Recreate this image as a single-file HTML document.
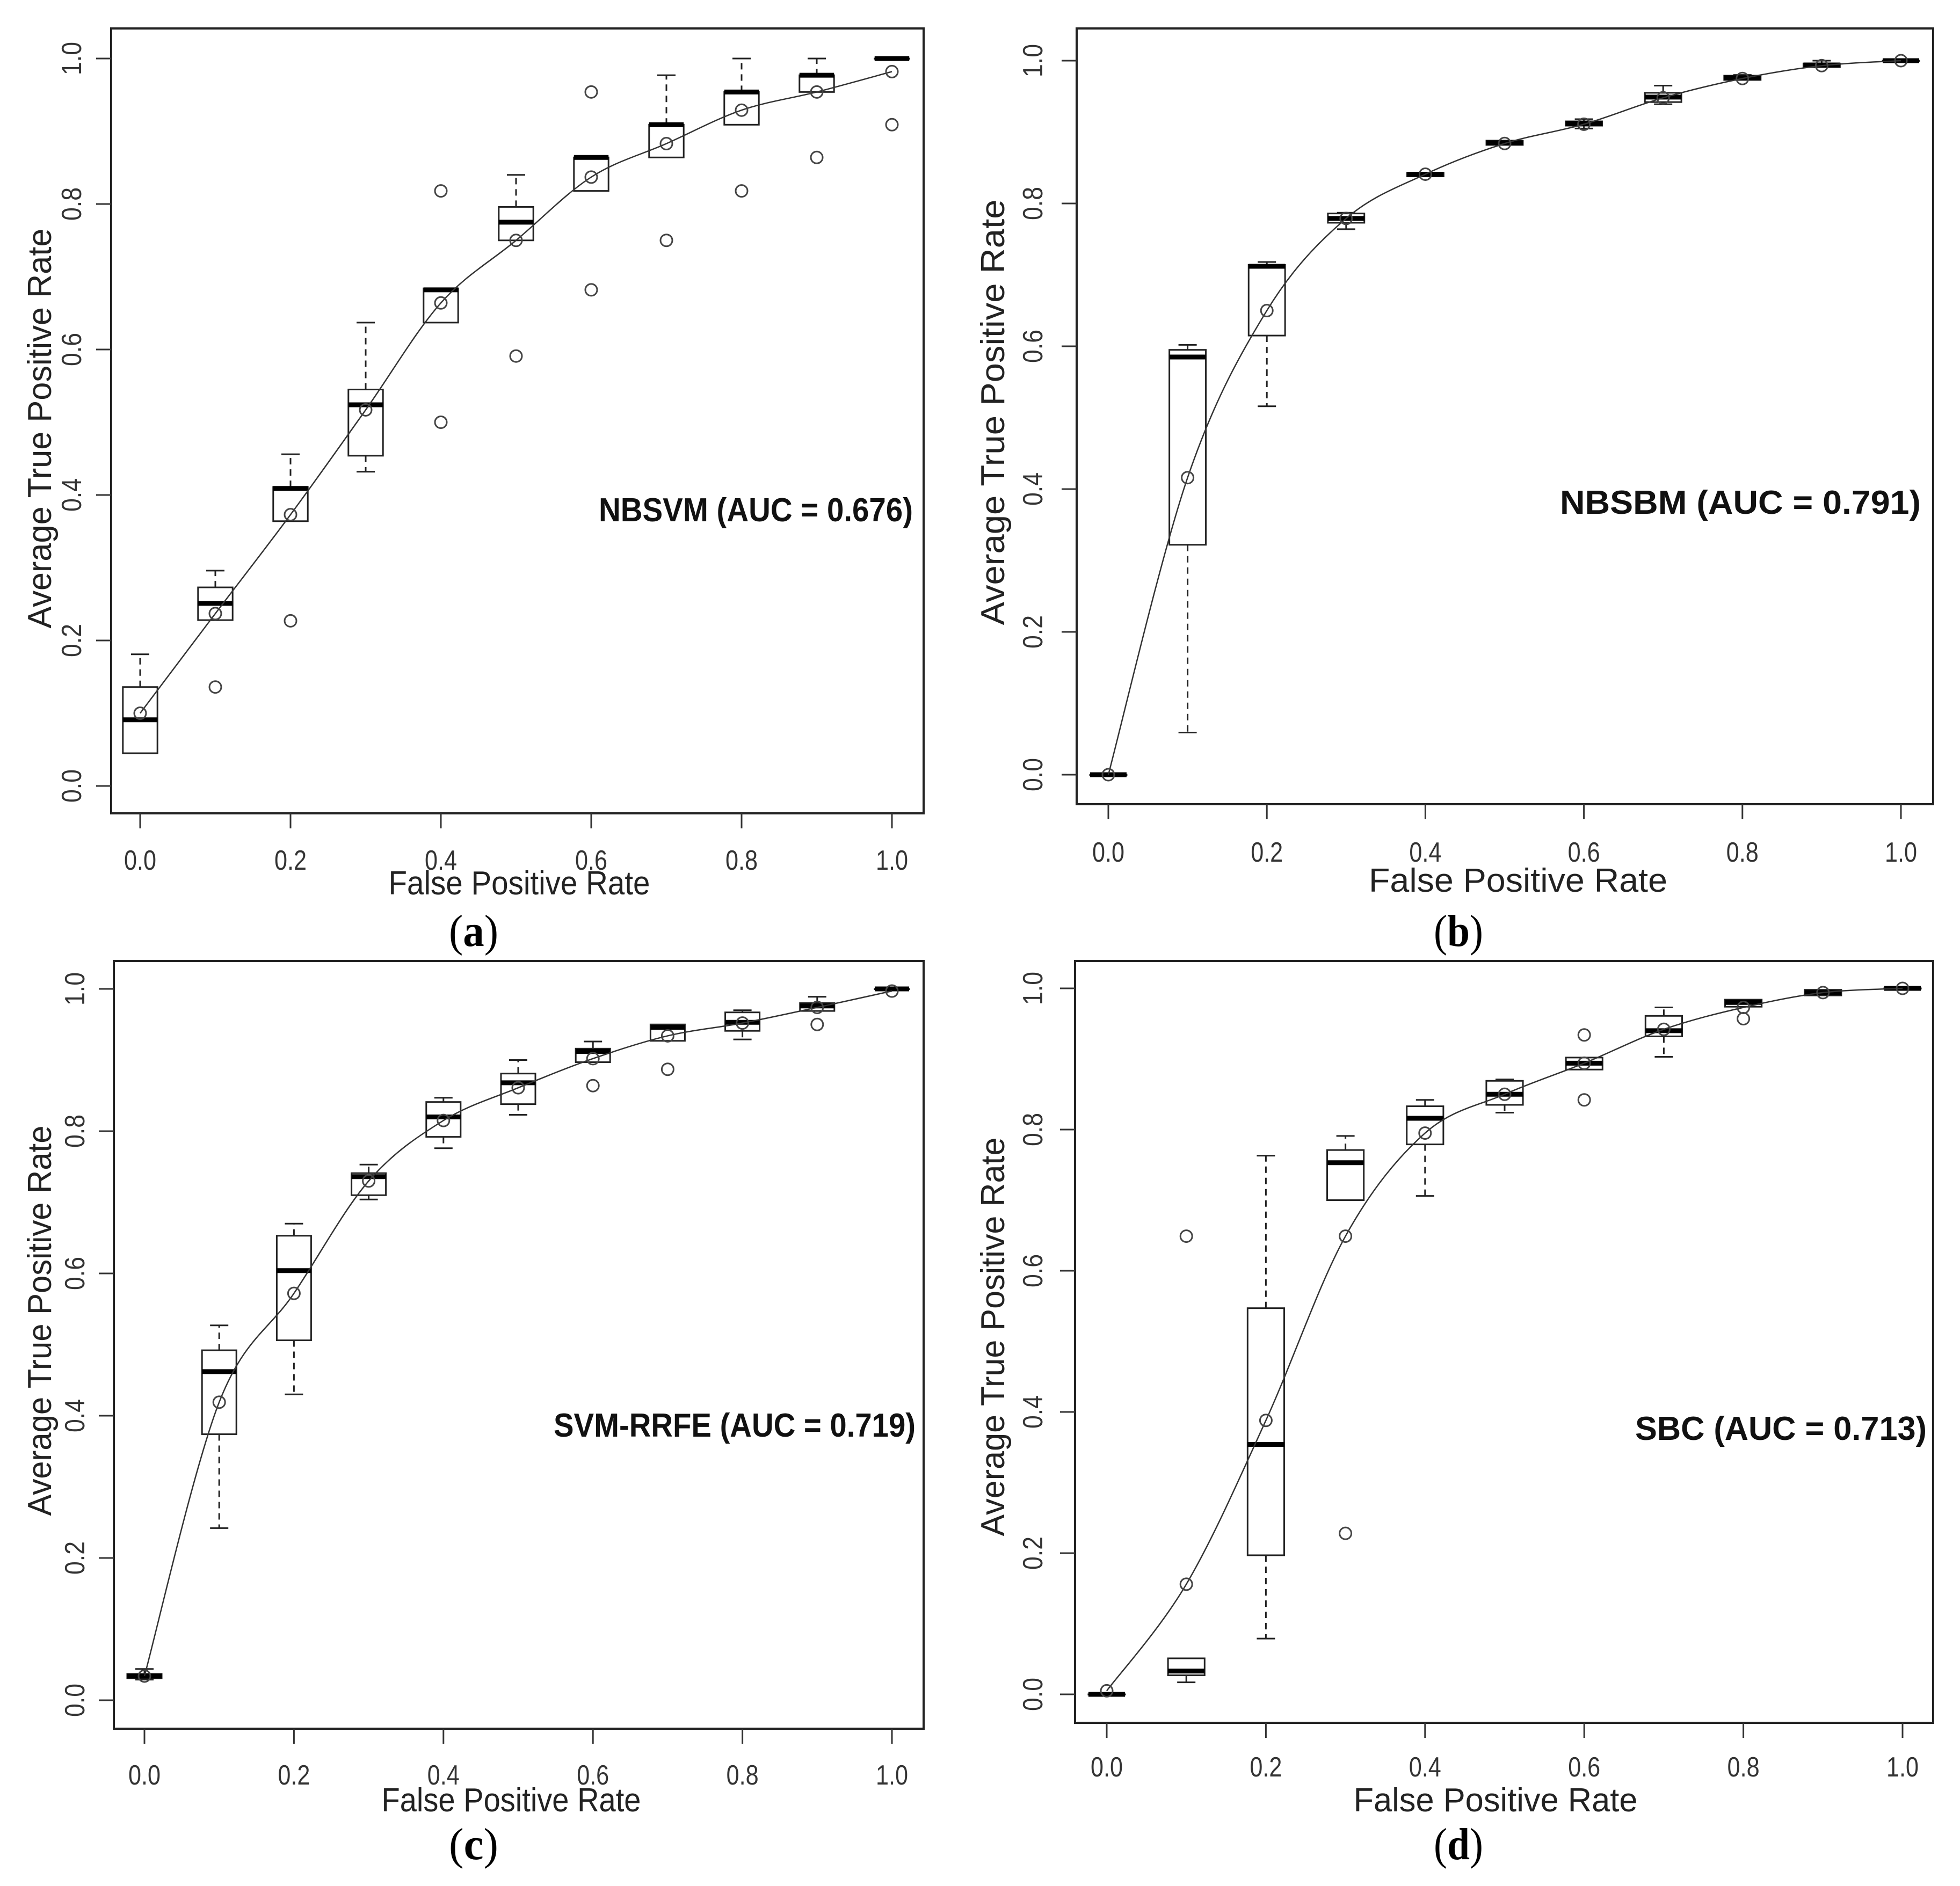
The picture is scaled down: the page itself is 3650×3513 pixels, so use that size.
<!DOCTYPE html>
<html><head><meta charset="utf-8"><style>
html,body{margin:0;padding:0;background:#fff;}
svg{display:block;}
</style></head><body>
<svg id="fig" width="3650" height="3513" viewBox="0 0 3650 3513" xmlns="http://www.w3.org/2000/svg"></svg>
<script>
// ---- data ----
const xCats = [0,0.1,0.2,0.3,0.4,0.5,0.6,0.7,0.8,0.9,1.0];
const xTickLabels = ["0.0","0.2","0.4","0.6","0.8","1.0"];
const yTickLabels = ["0.0","0.2","0.4","0.6","0.8","1.0"];
const tickValues = [0,0.2,0.4,0.6,0.8,1.0];

// Panel a: NBSVM
const aQ1 = [0.045,0.228,0.364,0.454,0.637,0.750,0.818,0.864,0.909,0.954,1.0];
const aMed = [0.091,0.251,0.409,0.524,0.682,0.775,0.864,0.909,0.954,0.977,1.0];
const aQ3 = [0.136,0.273,0.411,0.545,0.684,0.796,0.864,0.909,0.954,0.977,1.0];
const aLo = [0.045,0.228,0.364,0.432,0.637,0.750,0.818,0.864,0.909,0.954,1.0];
const aHi = [0.181,0.296,0.456,0.637,0.684,0.840,0.864,0.977,1.0,1.0,1.0];
const aCurve = [0.100,0.237,0.373,0.517,0.664,0.750,0.837,0.883,0.929,0.954,0.982];
const aOutliers = [[],[0.136],[0.227],[],[0.818,0.500],[0.591],[0.954,0.682],[0.750],[0.818],[0.864],[0.909]];

// Panel b: NBSBM
const bQ1 = [0,0.322,0.615,0.773,0.838,0.882,0.909,0.942,0.973,0.991,1.0];
const bMed = [0,0.585,0.712,0.779,0.841,0.885,0.912,0.949,0.976,0.994,1.0];
const bQ3 = [0,0.595,0.714,0.786,0.843,0.888,0.915,0.955,0.979,0.996,1.0];
const bLo = [0,0.059,0.516,0.764,0.838,0.882,0.905,0.939,0.973,0.991,1.0];
const bHi = [0,0.602,0.718,0.787,0.843,0.888,0.918,0.965,0.980,1.0,1.0];
const bCurve = [0,0.416,0.650,0.779,0.841,0.884,0.911,0.948,0.975,0.993,1.0];
const bOutliers = [[],[],[],[],[],[],[],[],[],[],[]];

// Panel c: SVM-RRFE
const cQ1 = [0.031,0.374,0.506,0.710,0.792,0.838,0.897,0.927,0.941,0.969,1.0];
const cMed = [0.034,0.462,0.604,0.736,0.820,0.868,0.912,0.946,0.953,0.976,1.0];
const cQ3 = [0.037,0.492,0.653,0.741,0.841,0.881,0.916,0.950,0.967,0.980,1.0];
const cLo = [0.029,0.242,0.430,0.704,0.776,0.823,0.897,0.927,0.929,0.969,1.0];
const cHi = [0.044,0.527,0.670,0.753,0.847,0.900,0.926,0.950,0.970,0.989,1.0];
const cCurve = [0.034,0.419,0.572,0.730,0.815,0.861,0.902,0.934,0.952,0.974,0.997];
const cOutliers = [[],[],[],[],[],[],[0.864],[0.887],[],[0.950],[]];

// Panel d: SBC
const dQ1 = [0,0.027,0.197,0.700,0.779,0.835,0.885,0.932,0.974,0.990,1.0];
const dMed = [0,0.033,0.354,0.753,0.816,0.850,0.894,0.940,0.980,0.994,1.0];
const dQ3 = [0,0.051,0.547,0.771,0.833,0.869,0.902,0.961,0.984,0.998,1.0];
const dLo = [0,0.017,0.079,0.700,0.706,0.824,0.885,0.903,0.974,0.990,1.0];
const dHi = [0,0.051,0.763,0.791,0.842,0.871,0.902,0.973,0.984,0.998,1.0];
const dCurve = [0.005,0.156,0.388,0.649,0.795,0.850,0.894,0.942,0.973,0.994,1.0];
const dOutliers = [[],[0.649],[],[0.228],[],[],[0.934,0.842],[],[0.957],[],[]];

const annotations = ["NBSVM (AUC = 0.676)","NBSBM (AUC = 0.791)","SVM-RRFE (AUC = 0.719)","SBC (AUC = 0.713)"];
const subLetters = ["a","b","c","d"];

// ---- layout (not data) ----
const panels = [
 {id:"a",q1:aQ1,med:aMed,q3:aQ3,lo:aLo,hi:aHi,curve:aCurve,out:aOutliers,
  f:[207,53,1720,1515],X0:261,X1:1661,Y1:109,Y0:1464,ytl:151,xtb:1620,
  xt:{cx:967,by:1666,len:487},yt:{bx:95,cy:798,len:745},ann:{x:1115,by:971,len:585},sub:{cx:882,by:1762}},
 {id:"b",q1:bQ1,med:bMed,q3:bQ3,lo:bLo,hi:bHi,curve:bCurve,out:bOutliers,
  f:[2005,53,3600,1498],X0:2064,X1:3540,Y1:113,Y0:1443,ytl:1941,xtb:1605,
  xt:{cx:2827,by:1661,len:556},yt:{bx:1870,cy:768,len:793},ann:{x:2905,by:957,len:672},sub:{cx:2716,by:1762}},
 {id:"c",q1:cQ1,med:cMed,q3:cQ3,lo:cLo,hi:cHi,curve:cCurve,out:cOutliers,
  f:[212,1790,1720,3220],X0:269,X1:1661,Y1:1842,Y0:3167,ytl:157,xtb:3324,
  xt:{cx:952,by:3374,len:483},yt:{bx:95,cy:2460,len:727},ann:{x:1031,by:2676,len:674},sub:{cx:882,by:3463}},
 {id:"d",q1:dQ1,med:dMed,q3:dQ3,lo:dLo,hi:dHi,curve:dCurve,out:dOutliers,
  f:[2002,1790,3600,3209],X0:2061,X1:3543,Y1:1841,Y0:3156,ytl:1941,xtb:3309,
  xt:{cx:2785,by:3374,len:529},yt:{bx:1870,cy:2490,len:743},ann:{x:3045,by:2682,len:543},sub:{cx:2716,by:3463}}
];

const NS = "http://www.w3.org/2000/svg";
const svg = document.getElementById("fig");
function mk(tag, attrs, parent){
  const e = document.createElementNS(NS, tag);
  for (const k in attrs) e.setAttribute(k, attrs[k]);
  parent.appendChild(e);
  return e;
}

panels.forEach((p, pi) => {
  const xs = v => p.X0 + v*(p.X1-p.X0);
  const ys = v => p.Y0 - v*(p.Y0-p.Y1);
  const g = mk("g", {}, svg);
  
  

  // frame
  const fr = mk("rect", {x:p.f[0], y:p.f[1], width:p.f[2]-p.f[0], height:p.f[3]-p.f[1], fill:"none", stroke:"#222", "stroke-width":4}, g);
  
  

  // x ticks
  const xa = mk("g", {}, g);
  
  
  tickValues.forEach((t, i) => {
    const x = xs(t);
    mk("line", {x1:x, y1:p.f[3], x2:x, y2:p.f[3]+28, stroke:"#333", "stroke-width":3}, xa);
    const tx = mk("text", {x:x, y:p.xtb, "text-anchor":"middle", "font-family":"Liberation Sans, sans-serif", "font-size":52, fill:"#333", textLength:60, lengthAdjust:"spacingAndGlyphs"}, xa);
    tx.textContent = xTickLabels[i];
    
    
  });
  // y ticks
  const ya = mk("g", {}, g);
  
  
  tickValues.forEach((t, i) => {
    const y = ys(t);
    mk("line", {x1:p.f[0], y1:y, x2:p.f[0]-28, y2:y, stroke:"#333", "stroke-width":3}, ya);
    const tx = mk("text", {x:0, y:0, transform:`translate(${p.ytl},${y}) rotate(-90)`, "text-anchor":"middle", "font-family":"Liberation Sans, sans-serif", "font-size":52, fill:"#333", textLength:62, lengthAdjust:"spacingAndGlyphs"}, ya);
    tx.textContent = yTickLabels[i];
    
    
  });
  // axis titles
  const xt = mk("text", {x:p.xt.cx, y:p.xt.by, "text-anchor":"middle", "font-family":"Liberation Sans, sans-serif", "font-size":62, fill:"#222", textLength:p.xt.len, lengthAdjust:"spacingAndGlyphs"}, g);
  xt.textContent = "False Positive Rate";
  
  
  const yt = mk("text", {x:0, y:0, transform:`translate(${p.yt.bx},${p.yt.cy}) rotate(-90)`, "text-anchor":"middle", "font-family":"Liberation Sans, sans-serif", "font-size":62, fill:"#222", textLength:p.yt.len, lengthAdjust:"spacingAndGlyphs"}, g);
  yt.textContent = "Average True Positive Rate";
  
  

  // boxes
  const hw = 0.023*(p.X1-p.X0), cw = 17;
  xCats.forEach((c, i) => {
    const bx = mk("g", {}, g);
    
    
    const x = xs(c);
    if (p.hi[i] > p.q3[i]) {
      mk("line", {x1:x, y1:ys(p.q3[i]), x2:x, y2:ys(p.hi[i]), stroke:"#222", "stroke-width":3, "stroke-dasharray":"12,9"}, bx);
      mk("line", {x1:x-cw, y1:ys(p.hi[i]), x2:x+cw, y2:ys(p.hi[i]), stroke:"#222", "stroke-width":3}, bx);
    }
    if (p.lo[i] < p.q1[i]) {
      mk("line", {x1:x, y1:ys(p.q1[i]), x2:x, y2:ys(p.lo[i]), stroke:"#222", "stroke-width":3, "stroke-dasharray":"12,9"}, bx);
      mk("line", {x1:x-cw, y1:ys(p.lo[i]), x2:x+cw, y2:ys(p.lo[i]), stroke:"#222", "stroke-width":3}, bx);
    }
    mk("rect", {x:x-hw, y:ys(p.q3[i]), width:2*hw, height:Math.max(0.5, ys(p.q1[i])-ys(p.q3[i])), fill:"none", stroke:"#222", "stroke-width":3}, bx);
    mk("line", {x1:x-hw, y1:ys(p.med[i]), x2:x+hw, y2:ys(p.med[i]), stroke:"#000", "stroke-width":9}, bx);
    p.out[i].forEach(v => {
      const o = mk("circle", {cx:x, cy:ys(v), r:11, fill:"none", stroke:"#444", "stroke-width":3}, bx);
      
      
    });
  });

  // curve (Catmull-Rom smooth)
  const pts = xCats.map((c, i) => [xs(c), ys(p.curve[i])]);
  let d = `M${pts[0][0]},${pts[0][1]}`;
  for (let i = 0; i < pts.length-1; i++) {
    const p0 = pts[Math.max(0,i-1)], p1 = pts[i], p2 = pts[i+1], p3 = pts[Math.min(pts.length-1,i+2)];
    const c1 = [p1[0]+(p2[0]-p0[0])/6, p1[1]+(p2[1]-p0[1])/6];
    const c2 = [p2[0]-(p3[0]-p1[0])/6, p2[1]-(p3[1]-p1[1])/6];
    d += ` C${c1[0]},${c1[1]} ${c2[0]},${c2[1]} ${p2[0]},${p2[1]}`;
  }
  const ln = mk("path", {d:d, fill:"none", stroke:"#333", "stroke-width":2.5}, g);
  
  
  pts.forEach(pt => {
    const cc = mk("circle", {cx:pt[0], cy:pt[1], r:11, fill:"none", stroke:"#444", "stroke-width":3}, g);
    
    
  });

  // annotation
  const an = mk("text", {x:p.ann.x, y:p.ann.by, "font-family":"Liberation Sans, sans-serif", "font-weight":"bold", "font-size":62, fill:"#111", textLength:p.ann.len, lengthAdjust:"spacingAndGlyphs"}, g);
  an.textContent = annotations[pi];
  
  

  // sub label
  const sl = mk("text", {x:p.sub.cx, y:p.sub.by, "text-anchor":"middle", "font-family":"Liberation Serif, serif", "font-size":84, fill:"#000", textLength:92, lengthAdjust:"spacingAndGlyphs"}, g);
  
  
  const t1 = mk("tspan", {}, sl); t1.textContent = "(";
  const t2 = mk("tspan", {"font-weight":"bold"}, sl); t2.textContent = subLetters[pi];
  const t3 = mk("tspan", {}, sl); t3.textContent = ")";
});
</script>
</body></html>
